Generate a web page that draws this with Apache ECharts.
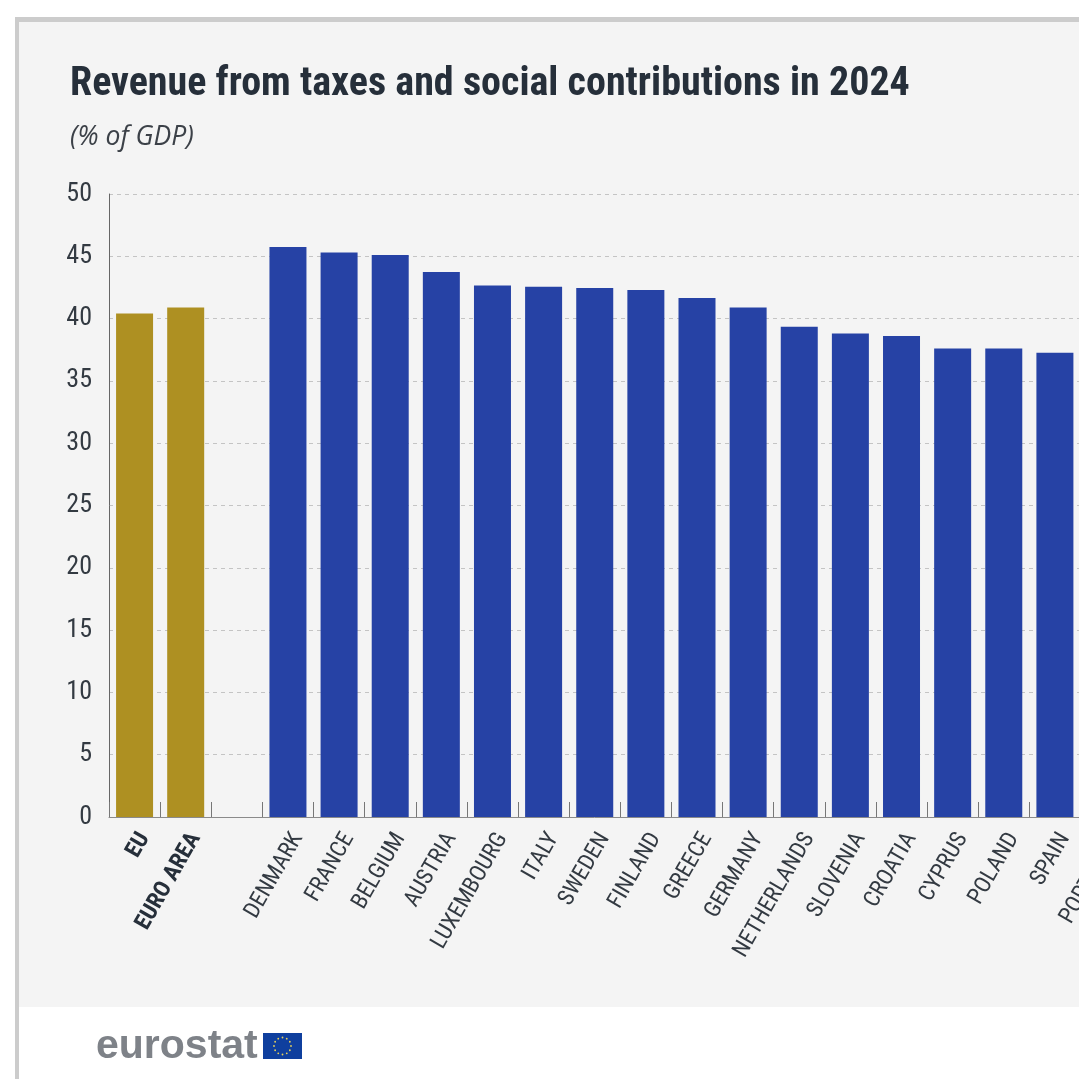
<!DOCTYPE html>
<html>
<head>
<meta charset="utf-8">
<style>html,body{margin:0;padding:0;background:#fff;overflow:hidden}#c{width:1079px;height:1079px}</style>
<script src="https://cdn.jsdelivr.net/npm/echarts@6/dist/echarts.min.js"></script>
</head>
<body>
<div id="c"></div>
<script>
const aggregateNames = ['EU', 'EURO AREA'];
const aggregateValues = [40.4, 40.9];
const countryNames = ['DENMARK','FRANCE','BELGIUM','AUSTRIA','LUXEMBOURG','ITALY','SWEDEN','FINLAND','GREECE','GERMANY','NETHERLANDS','SLOVENIA','CROATIA','CYPRUS','POLAND','SPAIN','PORTUGAL'];
const countryValues = [45.75,45.3,45.1,43.75,42.65,42.55,42.45,42.3,41.65,40.9,39.35,38.8,38.6,37.6,37.6,37.25,36.5];
const titleText = 'Revenue from taxes and social contributions in 2024';
const subtitleText = '(% of GDP)';
const GOLD = '#ae9022', BLUE = '#2642a5';
const narrow = '"Roboto Condensed","Liberation Sans",sans-serif';

const categories = [...aggregateNames, '', ...countryNames];
const barData = [
  ...aggregateValues.map(v => ({value: v, itemStyle: {color: GOLD}})),
  null,
  ...countryValues.map(v => ({value: v, itemStyle: {color: BLUE}}))
];

const stars = [];
for (let i = 0; i < 12; i++) {
  const a = i / 12 * Math.PI * 2;
  stars.push({type: 'circle', z: 11, shape: {cx: 282.5 + 8.5 * Math.cos(a), cy: 1046 + 8.5 * Math.sin(a), r: 0.9}, style: {fill: '#e8d25a'}});
}

const chart = echarts.init(document.getElementById('c'), null, {renderer: 'canvas'});
chart.setOption({
  animation: false,
  backgroundColor: '#ffffff',
  textStyle: {fontFamily: narrow},
  title: [
    {text: titleText, left: 65, top: 60, textStyle: {fontFamily: narrow, fontSize: 40, fontWeight: 'bold', color: '#262f3a'}},
    {text: subtitleText, left: 65, top: 119, textStyle: {fontFamily: '"Open Sans",sans-serif', fontSize: 26.5, fontStyle: 'italic', fontWeight: 'normal', color: '#3c4148'}}
  ],
  grid: {left: 109, top: 194, width: 1022.6, height: 623, containLabel: false, outerBoundsMode: 'none'},
  xAxis: {
    type: 'category',
    data: categories,
    axisLine: {lineStyle: {color: '#8a8a8a', width: 1}},
    axisTick: {show: true, inside: true, length: 15, alignWithLabel: false, lineStyle: {color: '#777', width: 1}},
    axisLabel: {
      interval: 0, rotate: 60, margin: 12, color: '#333a42', fontSize: 23, fontFamily: narrow, verticalAlign: 'top',
      formatter: v => aggregateNames.includes(v) ? '{b|' + v + '}' : v,
      rich: {b: {fontWeight: 'bold', fontSize: 23, fontFamily: narrow, color: '#262f3a'}}
    }
  },
  yAxis: {
    type: 'value', min: 0, max: 50, interval: 5,
    axisLine: {show: true, lineStyle: {color: '#666', width: 1}},
    axisTick: {show: false},
    axisLabel: {margin: 17, color: '#333a42', fontSize: 26, fontFamily: narrow, padding: [7, 0, 0, 0]},
    splitLine: {show: true, lineStyle: {color: '#c4c4c4', type: [4, 4], width: 1}}
  },
  series: [{type: 'bar', data: barData, barWidth: 37, z: 3}],
  graphic: [
    {type: 'rect', z: -10, silent: true, shape: {x: 15, y: 17, width: 1064, height: 1062}, style: {fill: '#cccccc'}},
    {type: 'rect', z: -9, silent: true, shape: {x: 19, y: 22, width: 1060, height: 1057}, style: {fill: '#ffffff'}},
    {type: 'rect', z: -8, silent: true, shape: {x: 19, y: 22, width: 1060, height: 985}, style: {fill: '#f4f4f4'}},
    {type: 'text', z: 10, silent: true, x: 96, y: 1047, style: {text: 'eurostat', verticalAlign: 'middle', fill: '#7e8288', font: 'bold 41px "Liberation Sans",sans-serif'}},
    {type: 'rect', z: 10, silent: true, shape: {x: 263, y: 1033, width: 39, height: 26}, style: {fill: '#0f3f9e'}},
    ...stars
  ]
});
</script>
</body>
</html>
